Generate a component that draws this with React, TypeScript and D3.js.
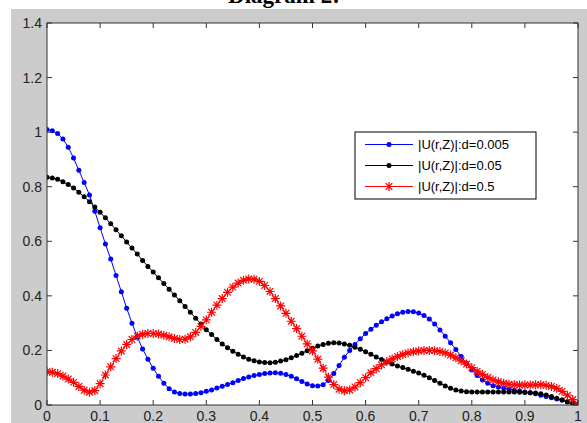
import React from "react";
import * as d3 from "d3";

const W = 587;
const H = 423;

const xs: number[] = d3.range(0, 101).map((i) => i / 100);

const blueValues: number[] = [
  1.010, 1.005, 0.995, 0.975, 0.945, 0.905, 0.860, 0.815, 0.770, 0.710,
  0.650, 0.590, 0.535, 0.475, 0.415, 0.355, 0.300, 0.250, 0.205, 0.168,
  0.135, 0.105, 0.080, 0.060, 0.048, 0.042, 0.040, 0.040, 0.042, 0.045,
  0.050, 0.055, 0.062, 0.069, 0.075, 0.082, 0.090, 0.097, 0.103, 0.108,
  0.112, 0.115, 0.117, 0.118, 0.116, 0.112, 0.105, 0.096, 0.086, 0.077,
  0.071, 0.070, 0.074, 0.090, 0.115, 0.145, 0.175, 0.200, 0.222, 0.243,
  0.262, 0.278, 0.292, 0.305, 0.316, 0.326, 0.334, 0.340, 0.343, 0.342,
  0.337, 0.328, 0.315, 0.297, 0.275, 0.252, 0.228, 0.203, 0.178, 0.152,
  0.128, 0.108, 0.092, 0.080, 0.071, 0.066, 0.062, 0.058, 0.054, 0.051,
  0.048, 0.045, 0.041, 0.036, 0.031, 0.027, 0.022, 0.018, 0.012, 0.006,
  0.000,
];

const blackValues: number[] = [
  0.835, 0.832, 0.827, 0.818, 0.808, 0.795, 0.780, 0.763, 0.745, 0.726,
  0.706, 0.686, 0.664, 0.642, 0.620, 0.597, 0.575, 0.553, 0.530, 0.508,
  0.487, 0.466, 0.445, 0.424, 0.403, 0.382, 0.361, 0.340, 0.318, 0.297,
  0.276, 0.258, 0.240, 0.224, 0.210, 0.197, 0.186, 0.176, 0.168, 0.162,
  0.158, 0.156, 0.155, 0.157, 0.161, 0.166, 0.173, 0.181, 0.190, 0.199,
  0.208, 0.216, 0.222, 0.226, 0.228, 0.227, 0.224, 0.219, 0.212, 0.204,
  0.195, 0.186, 0.176, 0.167, 0.158, 0.150, 0.143, 0.137, 0.131, 0.124,
  0.117, 0.109, 0.100, 0.090, 0.080, 0.070, 0.061, 0.055, 0.051, 0.049,
  0.048, 0.048, 0.048, 0.048, 0.048, 0.048, 0.048, 0.048, 0.048, 0.047,
  0.046, 0.045, 0.044, 0.041, 0.037, 0.031, 0.025, 0.018, 0.011, 0.005,
  0.000,
];

const redValues: number[] = [
  0.122, 0.120, 0.115, 0.106, 0.095, 0.083, 0.068, 0.054, 0.047, 0.053,
  0.078, 0.110, 0.140, 0.170, 0.198, 0.222, 0.240, 0.252, 0.259, 0.262,
  0.262, 0.260, 0.256, 0.250, 0.244, 0.240, 0.241, 0.250, 0.266, 0.288,
  0.312, 0.340, 0.366, 0.390, 0.413, 0.432, 0.447, 0.457, 0.462, 0.461,
  0.453, 0.438, 0.416, 0.390, 0.363, 0.336, 0.307, 0.280, 0.252, 0.224,
  0.198, 0.168, 0.135, 0.102, 0.075, 0.058, 0.052, 0.055, 0.066, 0.082,
  0.100, 0.118, 0.133, 0.147, 0.159, 0.169, 0.178, 0.185, 0.191, 0.195,
  0.198, 0.200, 0.200, 0.199, 0.196, 0.191, 0.183, 0.173, 0.162, 0.150,
  0.137, 0.124, 0.112, 0.101, 0.092, 0.085, 0.080, 0.076, 0.074, 0.073,
  0.073, 0.073, 0.074, 0.074, 0.072, 0.068, 0.061, 0.050, 0.036, 0.020,
  0.003,
];

const xTicks: number[] = [0, 0.1, 0.2, 0.3, 0.4, 0.5, 0.6, 0.7, 0.8, 0.9, 1];
const xTickLabels: string[] = ["0", "0.1", "0.2", "0.3", "0.4", "0.5", "0.6", "0.7", "0.8", "0.9", "1"];
const yTicks: number[] = [0, 0.2, 0.4, 0.6, 0.8, 1, 1.2, 1.4];
const yTickLabels: string[] = ["0", "0.2", "0.4", "0.6", "0.8", "1", "1.2", "1.4"];
const seriesNames: string[] = ["|U(r,Z)|:d=0.005", "|U(r,Z)|:d=0.05", "|U(r,Z)|:d=0.5"];
const titleText = "Diagram 2:";

const PL = 47, PR = 578, PT = 23, PB = 405;

export default function App() {
  const x = d3.scaleLinear().domain([0, 1]).range([PL, PR]);
  const y = d3.scaleLinear().domain([0, 1.4]).range([PB, PT]);

  const line = d3
    .line<[number, number]>()
    .x((d) => x(d[0]))
    .y((d) => y(d[1]));

  const pts = (vals: number[]): [number, number][] => xs.map((xv, i) => [xv, vals[i]]);

  const series = [
    { name: seriesNames[0], color: "#0000ff", values: blueValues, marker: "dot" },
    { name: seriesNames[1], color: "#000000", values: blackValues, marker: "dot" },
    { name: seriesNames[2], color: "#ff0000", values: redValues, marker: "star" },
  ];

  const starPath = "M-4.5,0H4.5M0,-4.5V4.5M-3.3,-3.3L3.3,3.3M-3.3,3.3L3.3,-3.3";

  const renderMarker = (m: string, color: string, cx: number, cy: number, key: any) =>
    m === "star" ? (
      <path key={key} d={starPath} transform={`translate(${cx},${cy})`} stroke={color} strokeWidth={1.2} fill="none" />
    ) : (
      <circle key={key} cx={cx} cy={cy} r={2.5} fill={color} />
    );

  const axisColor = "#333";
  const tickLen = 5;
  const fontTick = "Arial, 'Liberation Sans', sans-serif";

  const legend = { x0: 355, y0: 132, x1: 536, y1: 199, rows: [144.5, 165.5, 186.5] };

  return (
    <svg width={W} height={H} style={{ position: "absolute", left: 0, top: 0 }}>
      <rect x={0} y={0} width={W} height={H} fill="#ffffff" />
      <rect x={11} y={9} width={W - 11} height={H - 9} fill="#cccccc" />
      <text x={284} y={3} textAnchor="middle" fontFamily="'Liberation Serif', 'Times New Roman', serif" fontWeight="bold" fontSize={23} fill="#000">
        {titleText}
      </text>
      <defs>
        <clipPath id="plotclip">
          <rect x={PL} y={PT} width={PR - PL} height={PB - PT} />
        </clipPath>
      </defs>
      <rect x={PL} y={PT} width={PR - PL} height={PB - PT} fill="#ffffff" />
      <g clipPath="url(#plotclip)">
        {series.map((s, si) => (
          <g key={si}>
            <path d={line(pts(s.values)) || ""} fill="none" stroke={s.color} strokeWidth={1} />
            {pts(s.values).map((p, i) => renderMarker(s.marker, s.color, x(p[0]), y(p[1]), i))}
          </g>
        ))}
      </g>
      <rect x={PL} y={PT} width={PR - PL} height={PB - PT} fill="none" stroke={axisColor} strokeWidth={1} />
      {xTicks.map((t, i) => (
        <g key={"xt" + i}>
          <line x1={x(t)} x2={x(t)} y1={PB} y2={PB - tickLen} stroke={axisColor} />
          <line x1={x(t)} x2={x(t)} y1={PT} y2={PT + tickLen} stroke={axisColor} />
          <text x={x(t)} y={421} textAnchor="middle" fontFamily={fontTick} fontSize={14} fill="#222">
            {xTickLabels[i]}
          </text>
        </g>
      ))}
      {yTicks.map((t, i) => (
        <g key={"yt" + i}>
          <line x1={PL} x2={PL + tickLen} y1={y(t)} y2={y(t)} stroke={axisColor} />
          <line x1={PR} x2={PR - tickLen} y1={y(t)} y2={y(t)} stroke={axisColor} />
          <text x={42} y={y(t) + 5} textAnchor="end" fontFamily={fontTick} fontSize={14} fill="#222">
            {yTickLabels[i]}
          </text>
        </g>
      ))}
      <rect x={legend.x0} y={legend.y0} width={legend.x1 - legend.x0} height={legend.y1 - legend.y0} fill="#fff" stroke="#000" strokeWidth={1} />
      {series.map((s, i) => (
        <g key={"lg" + i}>
          <line x1={365} x2={413} y1={legend.rows[i]} y2={legend.rows[i]} stroke={s.color} strokeWidth={1} />
          {renderMarker(s.marker, s.color, 389, legend.rows[i], "m")}
          <text x={418} y={legend.rows[i] + 4.5} fontFamily={fontTick} fontSize={13} fill="#000">
            {s.name}
          </text>
        </g>
      ))}
    </svg>
  );
}
